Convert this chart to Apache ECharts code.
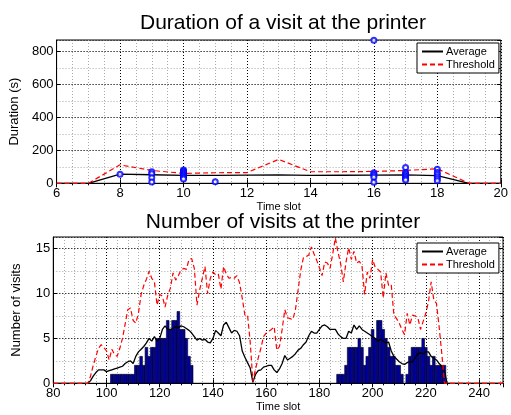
<!DOCTYPE html>
<html><head><meta charset="utf-8">
<script src="https://cdn.jsdelivr.net/npm/echarts@6/dist/echarts.min.js"></script>
<style>html,body{margin:0;padding:0;background:#fff}#c{width:511px;height:415px}</style>
</head><body><div id="c"></div>
<script>
// ---------- Data: Duration of a visit ----------
const topSlots = [6, 7, 8, 9, 10, 11, 12, 13, 14, 15, 16, 17, 18, 19, 20];
const topAverage = [0, 0, 56, 52, 48, 48, 50, 51, 48, 49, 50, 51, 47, 0, 0];
const topThreshold = [0, 0, 112, 78, 60, 64, 65, 145, 70, 70, 72, 78, 88, 0, 0];
const visitSlots = [8, 9, 9, 9, 9, 10, 10, 10, 10, 10, 10, 10, 10, 10, 10, 11,
  16, 16, 16, 16, 16, 16, 17, 17, 17, 17, 17, 17, 17, 17, 18, 18, 18, 18, 18, 18];
const visitDurations = [55, 70, 58, 34, 8, 80, 74, 68, 62, 56, 50, 44, 38, 32, 26, 10,
  868, 64, 56, 48, 36, 6, 96, 66, 58, 50, 42, 34, 26, 20, 86, 66, 54, 40, 28, 16];

// ---------- Data: Number of visits ----------
const countEdgeSlots = [80, 249];
const countLineStart = 93; // values below are for time slots 93..228
const countAverage = [
  0, 0.3, 0.8, 1.2, 1.5, 1.5, 1.5, 1.3, 1.4, 1.5,
  1.6, 1.7, 1.8, 1.9, 2.2, 2.4, 2.5, 2.2, 3.0, 3.5,
  3.8, 4.1, 4.5, 5.0, 4.7, 5.2, 4.7, 5.0, 6.0, 6.4,
  6.0, 6.0, 6.1, 6.3, 6.2, 6.4, 6.3, 6.1, 5.9, 5.6,
  5.2, 4.8, 5.0, 4.8, 4.9, 4.6, 4.5, 5.0, 5.9, 5.6,
  5.3, 6.5, 6.8, 6.2, 5.6, 5.9, 5.8, 5.3, 3.6, 2.9,
  2.3, 1.7, 0.1, 1.0, 1.4, 1.5, 1.8, 1.9, 2.0, 2.0,
  1.5, 1.2, 1.6, 2.2, 3.1, 2.6, 2.8, 3.0, 3.3, 3.7,
  3.9, 4.3, 4.6, 5.3, 5.8, 5.6, 5.6, 6.0, 6.4, 6.5,
  6.3, 6.0, 6.0, 6.0, 5.5, 5.2, 5.0, 5.0, 5.8, 5.6,
  6.5, 6.0, 6.4, 6.0, 5.8, 5.6, 5.4, 5.2, 5.0, 4.7,
  4.9, 4.7, 4.5, 4.6, 3.6, 3.0, 2.7, 2.4, 2.2, 2.1,
  2.3, 2.4, 2.4, 2.8, 3.3, 3.4, 3.3, 3.5, 3.5, 3.0,
  2.8, 2.6, 2.2, 1.9, 1.4, 0];
const countThreshold = [
  0, 0.8, 2.0, 3.0, 3.9, 4.3, 4.0, 3.6, 2.6, 3.8,
  3.2, 3.0, 3.9, 5.0, 6.6, 8.2, 8.4, 7.0, 6.7, 7.8,
  9.9, 10.9, 11.6, 12.5, 11.7, 11.3, 8.7, 9.9, 9.7, 8.5,
  9.8, 10.6, 12.3, 11.5, 12.0, 12.6, 12.8, 12.7, 13.8, 13.9,
  12.8, 8.7, 10.4, 11.7, 13.0, 10.0, 11.7, 12.4, 12.1, 12.2,
  10.5, 13.0, 12.2, 11.7, 11.8, 11.7, 12.0, 11.2, 9.5, 7.6,
  7.6, 4.6, 0.2, 1.6, 2.8, 3.9, 5.2, 5.6, 5.8, 6.0,
  6.3, 3.7, 4.1, 6.0, 8.2, 7.3, 7.2, 7.1, 8.2, 10.4,
  12.6, 14.0, 14.1, 14.3, 15.2, 14.4, 13.7, 12.9, 12.0, 13.5,
  13.4, 12.8, 14.4, 16.2, 14.6, 13.3, 11.3, 13.5, 15.1, 13.8,
  14.7, 13.4, 13.6, 13.1, 9.9, 12.4, 11.7, 13.8, 12.9, 12.7,
  12.4, 9.5, 12.3, 10.9, 11.0, 7.6, 7.2, 6.7, 6.0, 5.4,
  7.8, 6.5, 7.6, 7.5, 7.3, 6.0, 6.9, 7.8, 9.1, 11.3,
  9.3, 8.9, 6.3, 3.3, 0, 0];
const barStart1 = 102;
const barCluster1 = [1, 1, 1, 1, 1, 1, 1, 1, 1, 2, 2, 3, 2, 4, 3, 4, 4, 5, 5, 5, 5, 7, 6, 7, 7, 8, 6, 6, 5, 3, 2];
const barStart2 = 187;
const barCluster2 = [1, 1, 1, 2, 4, 4, 4, 4, 5, 4, 2, 3, 4, 6, 5, 7, 7, 6, 5, 4, 3, 3, 2, 2, 1, 0, 1, 3, 4, 4, 4, 4, 5, 4, 3, 2, 3, 2, 2, 2, 2];

// ---------- Build series data ----------
const pairs = (xs, ys) => xs.map((x, i) => [x, ys[i]]);
function countLine(values) {
  const pts = [[countEdgeSlots[0], 0]];
  values.forEach((v, i) => pts.push([countLineStart + i, v]));
  pts.push([countEdgeSlots[1], 0]);
  return pts;
}
const barData = [];
barCluster1.forEach((v, i) => barData.push([barStart1 + i, v]));
barCluster2.forEach((v, i) => barData.push([barStart2 + i, v]));

const FONT = '"Liberation Sans", Arial, Helvetica, sans-serif';
const lbl = { color: '#000', fontSize: 13, fontFamily: FONT, margin: 4 };
const majorSplit = { show: true, lineStyle: { color: '#000', type: [1, 2], width: 1 } };
const minorSplit = { show: true, lineStyle: { color: '#aaa', type: [1, 2], width: 1 } };
const axisLine = { show: true, lineStyle: { color: '#000', width: 1 } };
const tickIn = { show: true, inside: true, length: 4, lineStyle: { color: '#000' } };
const tickMinor = { show: true, inside: true, length: 2, lineStyle: { color: '#000' } };

function majorX(grid, min, max, interval, name, showMax) {
  return { type: 'value', gridIndex: grid, min, max, interval, z: 1,
    axisLine, axisTick: tickIn, splitLine: majorSplit,
    axisLabel: Object.assign({ showMaxLabel: showMax }, lbl),
    name, nameLocation: 'middle', nameGap: 18,
    nameTextStyle: { fontSize: 11, fontFamily: FONT, color: '#000' } };
}
function minorX(grid, min, max, interval, position) {
  return { type: 'value', gridIndex: grid, min, max, interval, z: 0, position,
    axisLine: { show: false }, axisTick: tickMinor, axisLabel: { show: false }, splitLine: minorSplit };
}
function mirrorX(grid, min, max, interval) {
  return { type: 'value', gridIndex: grid, min, max, interval, z: 1, position: 'top',
    axisLine: { show: false }, axisTick: tickIn, axisLabel: { show: false }, splitLine: { show: false } };
}
function majorY(grid, min, max, interval, name) {
  return { type: 'value', gridIndex: grid, min, max, interval, z: 1,
    axisLine, axisTick: tickIn, splitLine: majorSplit,
    axisLabel: Object.assign({ showMaxLabel: false }, lbl, { margin: 3 }),
    name, nameLocation: 'middle', nameGap: 30,
    nameTextStyle: { fontSize: 13, fontFamily: FONT, color: '#000' } };
}
function minorY(grid, min, max, interval) {
  return { type: 'value', gridIndex: grid, min, max, interval, z: 0,
    axisLine: { show: false }, axisTick: tickMinor, axisLabel: { show: false }, splitLine: minorSplit };
}
function mirrorY(grid, min, max, interval) {
  return { type: 'value', gridIndex: grid, min, max, interval, z: 1, position: 'right',
    axisLine: { show: false }, axisTick: tickIn, axisLabel: { show: false }, splitLine: { show: false } };
}
function legend(top) {
  return { data: ['Average', 'Threshold'], orient: 'vertical', left: 417, top,
    borderColor: '#000', borderWidth: 1, backgroundColor: '#fff', borderRadius: 0,
    padding: [3, 4, 3, 4], itemGap: 2, itemWidth: 21, itemHeight: 10,
    itemStyle: { opacity: 0 },
    textStyle: { fontSize: 11, fontFamily: FONT, color: '#000', padding: [0, 0, 0, -2] },
    selectedMode: false };
}

const option = {
  backgroundColor: '#fff',
  animation: false,
  title: [
    { text: 'Duration of a visit at the printer', left: 278, top: 8, textAlign: 'center',
      textStyle: { fontSize: 21, fontWeight: 'normal', fontFamily: FONT, color: '#000' } },
    { text: 'Number of visits at the printer', left: 278, top: 207, textAlign: 'center',
      textStyle: { fontSize: 21, fontWeight: 'normal', fontFamily: FONT, color: '#000' } }
  ],
  legend: [legend(43), legend(243)],
  grid: [
    { left: 53, right: 8, top: 40, height: 143.3, show: true, borderColor: '#000', borderWidth: 1, backgroundColor: 'transparent' },
    { left: 53.3, right: 8, top: 237, height: 146.3, show: true, borderColor: '#000', borderWidth: 1, backgroundColor: 'transparent' }
  ],
  xAxis: [
    majorX(0, 6, 20, 2, 'Time slot', true),
    majorX(1, 80, 249, 20, 'Time slot', false),
    minorX(0, 6, 20, 0.5),
    minorX(1, 80, 249, 4),
    mirrorX(0, 6, 20, 2),
    mirrorX(1, 80, 249, 20)
  ],
  yAxis: [
    majorY(0, 0, 870, 200, 'Duration (s)'),
    majorY(1, 0, 16.3, 5, 'Number of visits'),
    minorY(0, 0, 870, 100),
    minorY(1, 0, 16.3, 2.5),
    mirrorY(0, 0, 870, 200),
    mirrorY(1, 0, 16.3, 5)
  ],
  series: [
    { name: 'Average', type: 'line', xAxisIndex: 0, yAxisIndex: 0, data: pairs(topSlots, topAverage),
      symbol: 'none', lineStyle: { color: '#000', width: 1.3 }, itemStyle: { color: '#000' }, z: 3 },
    { name: 'Threshold', type: 'line', xAxisIndex: 0, yAxisIndex: 0, data: pairs(topSlots, topThreshold),
      symbol: 'none', lineStyle: { color: '#ff0000', width: 1.2, type: [5, 3] }, itemStyle: { color: '#ff0000' }, z: 4 },
    { name: 'Visits', type: 'scatter', xAxisIndex: 0, yAxisIndex: 0, data: pairs(visitSlots, visitDurations),
      symbol: 'emptyCircle', symbolSize: 5, itemStyle: { color: '#0000ff', borderColor: '#0000ff', borderWidth: 1 }, z: 5 },
    { name: 'Count', type: 'custom', xAxisIndex: 1, yAxisIndex: 1, data: barData, z: 2,
      renderItem: function (params, api) {
        const t = api.value(0), v = api.value(1);
        if (!v) return null;
        const p0 = api.coord([t - 0.5, v]);
        const p1 = api.coord([t + 0.5, 0]);
        return { type: 'rect', shape: { x: p0[0], y: p0[1], width: p1[0] - p0[0], height: p1[1] - p0[1] },
          style: { fill: '#0000aa', stroke: '#000', lineWidth: 0.6 } };
      } },
    { name: 'Average', type: 'line', xAxisIndex: 1, yAxisIndex: 1, data: countLine(countAverage),
      symbol: 'none', lineStyle: { color: '#000', width: 1.3 }, itemStyle: { color: '#000' }, z: 3 },
    { name: 'Threshold', type: 'line', xAxisIndex: 1, yAxisIndex: 1, data: countLine(countThreshold),
      symbol: 'none', lineStyle: { color: '#ff0000', width: 1.2, type: [5, 3] }, itemStyle: { color: '#ff0000' }, z: 4 }
  ]
};
const chart = echarts.init(document.getElementById('c'), null, { renderer: 'canvas' });
chart.setOption(option);
</script></body></html>
